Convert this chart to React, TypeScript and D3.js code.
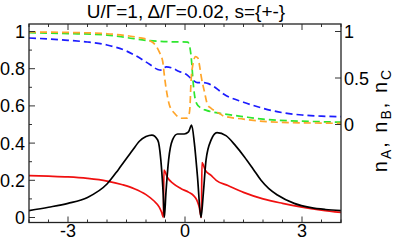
import React from 'react';
import * as d3 from 'd3';

// solid curves, read against the left axis
const blackPts: [number, number][] = [
  [-4.0, 0.037], [-3.5, 0.055], [-3.0, 0.076], [-2.5, 0.108], [-2.0, 0.18],
  [-1.7, 0.26], [-1.35, 0.36], [-1.17, 0.41], [-1.0, 0.435], [-0.85, 0.443],
  [-0.7, 0.417], [-0.62, 0.31], [-0.56, 0.13], [-0.53, 0.0], [-0.49, 0.13],
  [-0.42, 0.31], [-0.32, 0.417], [-0.19, 0.449], [-0.02, 0.449], [0.09, 0.46],
  [0.17, 0.497], [0.24, 0.4], [0.32, 0.22], [0.41, 0.0], [0.47, 0.13],
  [0.54, 0.31], [0.67, 0.417], [0.82, 0.456], [1.05, 0.44], [1.3, 0.385],
  [1.52, 0.327], [1.75, 0.26], [1.95, 0.2], [2.15, 0.155], [2.37, 0.121],
  [2.8, 0.076], [3.23, 0.053], [3.6, 0.043], [4.0, 0.037]
];

const redPts: [number, number][] = [
  [-4.0, 0.225], [-3.5, 0.222], [-3.0, 0.218], [-2.5, 0.21], [-2.0, 0.196],
  [-1.6, 0.176], [-1.3, 0.155], [-1.0, 0.123], [-0.8, 0.09], [-0.66, 0.056],
  [-0.6, 0.028], [-0.555, 0.0], [-0.54, 0.255], [-0.45, 0.215], [-0.3, 0.182],
  [-0.1, 0.155], [0.1, 0.135], [0.22, 0.118], [0.3, 0.095], [0.36, 0.06],
  [0.42, 0.0], [0.435, 0.295], [0.52, 0.255], [0.67, 0.226], [0.8, 0.2],
  [1.1, 0.172], [1.5, 0.135], [2.0, 0.1], [2.5, 0.076], [3.0, 0.056],
  [3.5, 0.04], [4.0, 0.027]
];

// dashed curves n_A, n_B, n_C, read against the right axis
const bluePts: [number, number][] = [
  [-4.0, 0.93], [-3.5, 0.92], [-3.0, 0.905], [-2.5, 0.887], [-2.0, 0.855],
  [-1.5, 0.79], [-1.2, 0.725], [-0.9, 0.645], [-0.7, 0.592], [-0.6, 0.585],
  [-0.48, 0.62], [-0.35, 0.61], [-0.15, 0.57], [0.03, 0.54], [0.2, 0.478],
  [0.32, 0.45], [0.45, 0.452], [0.6, 0.44], [0.8, 0.39], [1.0, 0.325],
  [1.5, 0.24], [2.0, 0.174], [2.5, 0.127], [3.0, 0.102], [3.5, 0.09],
  [4.0, 0.084]
];

const greenPts: [number, number][] = [
  [-4.0, 0.987], [-3.0, 0.978], [-2.0, 0.962], [-1.5, 0.935], [-1.0, 0.905],
  [-0.7, 0.895], [-0.4, 0.89], [-0.1, 0.888], [0.07, 0.885], [0.11, 0.855],
  [0.15, 0.76], [0.18, 0.62], [0.2, 0.5], [0.24, 0.33], [0.3, 0.225],
  [0.4, 0.18], [0.55, 0.152], [0.8, 0.127], [1.0, 0.113], [1.5, 0.084],
  [2.0, 0.058], [2.7, 0.04], [3.3, 0.032], [4.0, 0.025]
];

const orangePts: [number, number][] = [
  [-4.0, 0.995], [-3.0, 0.99], [-2.0, 0.976], [-1.5, 0.955], [-1.2, 0.937],
  [-0.92, 0.905], [-0.79, 0.87], [-0.66, 0.78], [-0.57, 0.675], [-0.53, 0.53],
  [-0.47, 0.35], [-0.4, 0.21], [-0.27, 0.12], [-0.1, 0.067], [0.05, 0.068],
  [0.11, 0.12], [0.13, 0.21], [0.15, 0.425], [0.2, 0.64], [0.27, 0.73],
  [0.33, 0.715], [0.37, 0.64], [0.41, 0.53], [0.5, 0.35], [0.58, 0.21],
  [0.67, 0.174], [0.88, 0.12], [1.0, 0.09], [1.5, 0.058], [2.0, 0.034],
  [2.7, 0.02], [3.5, 0.015], [4.0, 0.012]
];

const xTicks = d3.range(-8, 9).map(i => i * 0.5);
const xLabels = [-3, 0, 3];
const leftTicks = d3.range(0, 11).map(i => i / 10);
const leftLabels = [0, 0.2, 0.4, 0.6, 0.8, 1];
const rightLabels = [0, 0.5, 1];

const W = 395;
const H = 240;
const L = 29;
const R = 341;
const T = 24;
const B = 222.5;

const font = '"Liberation Sans", Arial, Helvetica, sans-serif';

export default function App() {
  const x = d3.scaleLinear().domain([-4, 4]).range([L, R]);
  const yL = d3.scaleLinear().domain([0, 1]).range([217.5, 31.5]);
  const yR = d3.scaleLinear().domain([0, 1]).range([124.5, 31.5]);

  const lineL = d3.line<[number, number]>()
    .x(d => x(d[0]))
    .y(d => yL(d[1]))
    .curve(d3.curveMonotoneX);
  const lineR = d3.line<[number, number]>()
    .x(d => x(d[0]))
    .y(d => yR(d[1]))
    .curve(d3.curveMonotoneX);

  const fmt = (v: number) => (v === 0 || v === 1 ? String(v) : v.toFixed(1));

  return (
    <svg width={W} height={H} style={{ position: 'absolute', left: 0, top: 0 }}
      fontFamily={font}>
      <rect width={W} height={H} fill="#fff" />
      <defs>
        <clipPath id="plot">
          <rect x={L} y={T} width={R - L} height={B - T} />
        </clipPath>
      </defs>

      <text x={186} y={18} textAnchor="middle" fontSize={19}>
        U/Γ=1, Δ/Γ=0.02, s={'{+-}'}
      </text>

      <g clipPath="url(#plot)" fill="none" strokeWidth={1.7}>
        <path d={lineR(bluePts) || ''} stroke="#1c1cff" strokeDasharray="7,4" />
        <path d={lineR(greenPts) || ''} stroke="#2ee62e" strokeDasharray="7,4" />
        <path d={lineR(orangePts) || ''} stroke="#ffa52a" strokeDasharray="7,4" />
        <path d={lineL(redPts) || ''} stroke="#f01010" />
        <path d={lineL(blackPts) || ''} stroke="#000" />
      </g>

      <g stroke="#333" strokeWidth={1}>
        {xTicks.map(t => {
          const len = xLabels.includes(t) ? 6 : 3;
          return (
            <g key={'x' + t}>
              <line x1={x(t)} x2={x(t)} y1={B} y2={B - len} />
              <line x1={x(t)} x2={x(t)} y1={T} y2={T + len} />
            </g>
          );
        })}
        {leftTicks.map(t => {
          const len = leftLabels.some(v => Math.abs(v - t) < 1e-6) ? 6 : 3;
          return <line key={'l' + t} x1={L} x2={L + len} y1={yL(t)} y2={yL(t)} />;
        })}
        {rightLabels.map(t => (
          <line key={'r' + t} x1={R} x2={R - 6} y1={yR(t)} y2={yR(t)} />
        ))}
      </g>

      <rect x={L} y={T} width={R - L} height={B - T} fill="none" stroke="#222" strokeWidth={1.3} />

      <g fontSize={18} fill="#000">
        {xLabels.map(t => (
          <text key={'xl' + t} x={x(t)} y={237} textAnchor="middle">{t}</text>
        ))}
        {leftLabels.map(t => (
          <text key={'ll' + t} x={25} y={yL(t) + 6.5} textAnchor="end">{fmt(t)}</text>
        ))}
        {rightLabels.map(t => (
          <text key={'rl' + t} x={344} y={yR(t) + 6.5} textAnchor="start">{fmt(t)}</text>
        ))}
      </g>

      <text transform="translate(387,120) rotate(-90)" textAnchor="middle" fontSize={20}
        letterSpacing={2}>
        n<tspan fontSize={14} dy={4}>A</tspan>
        <tspan dy={-4}>, n</tspan><tspan fontSize={14} dy={4}>B</tspan>
        <tspan dy={-4}>, n</tspan><tspan fontSize={14} dy={4}>C</tspan>
      </text>
    </svg>
  );
}
